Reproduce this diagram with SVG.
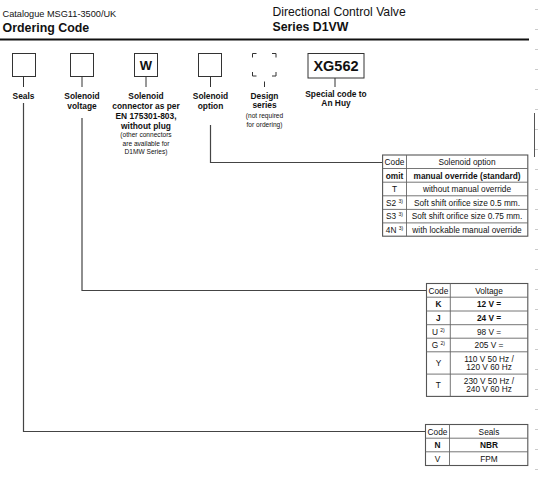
<svg xmlns="http://www.w3.org/2000/svg" width="538" height="480" viewBox="0 0 538 480">
<style>
text{font-family:"Liberation Sans",Arial,sans-serif;fill:#111}
.b{font-weight:bold}
.lbl{font-size:8.4px;font-weight:bold;text-anchor:middle}
.sm{font-size:6.6px;text-anchor:middle}
.t{font-size:8.3px;text-anchor:middle}
.sup{font-size:5px}
.box{fill:#fff;stroke:#333;stroke-width:1}
.stem{stroke:#333;stroke-width:1;fill:none}
.conn{stroke:#444;stroke-width:1.2;fill:none}
.tbl{fill:#fff;stroke:#555;stroke-width:1.1}
.grid{stroke:#666;stroke-width:0.9;fill:none}
.tick{stroke:#ccc;stroke-width:1}
</style>

<g id="header">
<text x="2.5" y="16.5" font-size="9.2">Catalogue MSG11-3500/UK</text>
<text x="2.5" y="31.5" font-size="12.4" class="b">Ordering Code</text>
<text x="272.5" y="16" font-size="12.2">Directional Control Valve</text>
<text x="272.5" y="31" font-size="12.3" class="b">Series D1VW</text>
<line x1="0" y1="39.5" x2="529" y2="39.5" stroke="#111" stroke-width="2"/>
</g>

<g id="edge-ticks">
<path class="tick" d="M535 9.5H538M535 29.5H538M535 49.5H538M535 69.5H538M535 89.5H538M535 109.5H538M535 129.5H538M535 149.5H538M535 169.5H538M535 189.5H538M535 209.5H538M535 229.5H538M535 249.5H538M535 269.5H538M535 289.5H538M535 309.5H538M535 329.5H538M535 349.5H538M535 369.5H538M535 389.5H538M535 409.5H538M535 429.5H538M535 449.5H538M535 469.5H538"/>
<line x1="534.5" y1="113" x2="534.5" y2="157" stroke="#555" stroke-width="1"/>
</g>

<g id="node-seals">
<rect class="box" x="12.5" y="53.5" width="23" height="23"/>
<line class="stem" x1="23.5" y1="76.5" x2="23.5" y2="87"/>
<text class="lbl" x="23.5" y="99">Seals</text>
</g>

<g id="node-voltage">
<rect class="box" x="70.5" y="53.5" width="23" height="23"/>
<line class="stem" x1="82" y1="76.5" x2="82" y2="87"/>
<text class="lbl" x="82" y="99">Solenoid</text>
<text class="lbl" x="82" y="109">voltage</text>
</g>

<g id="node-connector">
<rect class="box" x="134.5" y="53.5" width="23" height="23"/>
<text x="146" y="69.5" font-size="13" class="b" text-anchor="middle">W</text>
<line class="stem" x1="146" y1="76.5" x2="146" y2="87"/>
<text class="lbl" x="146" y="99">Solenoid</text>
<text class="lbl" x="146" y="109">connector as per</text>
<text class="lbl" x="146" y="119">EN 175301-803,</text>
<text class="lbl" x="146" y="128.5">without plug</text>
<text class="sm" x="146" y="137">(other connectors</text>
<text class="sm" x="146" y="145.5">are available for</text>
<text class="sm" x="146" y="154">D1MW Series)</text>
</g>

<g id="node-option">
<rect class="box" x="198.5" y="53.5" width="23" height="23"/>
<line class="stem" x1="210.5" y1="76.5" x2="210.5" y2="87"/>
<text class="lbl" x="210.5" y="99">Solenoid</text>
<text class="lbl" x="210.5" y="109">option</text>
</g>

<g id="node-design">
<path class="stem" d="M252.5 57.5V53.5H256.5M272 53.5H276V57.5M252.5 72V76H256.5M272 76H276V72"/>
<line class="stem" x1="264.5" y1="81.5" x2="264.5" y2="87"/>
<text class="lbl" x="264.5" y="98.5">Design</text>
<text class="lbl" x="264.5" y="108">series</text>
<text class="sm" x="264.5" y="118">(not required</text>
<text class="sm" x="264.5" y="127">for ordering)</text>
</g>

<g id="node-special">
<rect class="box" x="308" y="53.5" width="56" height="24.5"/>
<text x="336" y="70.5" font-size="14.5" class="b" text-anchor="middle">XG562</text>
<line class="stem" x1="335" y1="78" x2="335" y2="87"/>
<text class="lbl" x="336" y="96.5">Special code to</text>
<text class="lbl" x="336" y="105.5">An Huy</text>
</g>

<g id="connectors">
<polyline class="conn" points="210.5,125 210.5,162.5 382.6,162.5"/>
<polyline class="conn" points="82,118 82,290.5 426.5,290.5"/>
<polyline class="conn" points="23.5,103 23.5,431.5 425.5,431.5"/>
</g>

<g id="table-option">
<rect class="tbl" x="382.6" y="155" width="145.2" height="81.2"/>
<path class="grid" d="M406.5 155V236.2M382.6 168.5H527.8M382.6 182.2H527.8M382.6 195.8H527.8M382.6 209.4H527.8M382.6 222.9H527.8"/>
<text class="t" x="394.5" y="165">Code</text>
<text class="t" x="467" y="165">Solenoid option</text>
<text class="t b" x="394.5" y="178.5">omit</text>
<text class="t b" x="467" y="178.5">manual override (standard)</text>
<text class="t" x="394.5" y="192">T</text>
<text class="t" x="467" y="192">without manual override</text>
<text class="t" x="394.5" y="205.5">S2 <tspan class="sup" dy="-3">3)</tspan></text>
<text class="t" x="467" y="205.5">Soft shift orifice size 0.5 mm.</text>
<text class="t" x="394.5" y="219">S3 <tspan class="sup" dy="-3">3)</tspan></text>
<text class="t" x="467" y="219">Soft shift orifice size 0.75 mm.</text>
<text class="t" x="394.5" y="232.5">4N <tspan class="sup" dy="-3">3)</tspan></text>
<text class="t" x="467" y="232.5">with lockable manual override</text>
</g>

<g id="table-voltage">
<rect class="tbl" x="426.5" y="283.5" width="101.3" height="112.9"/>
<path class="grid" d="M450.3 283.5V396.4M426.5 297.2H527.8M426.5 311H527.8M426.5 324.7H527.8M426.5 338.2H527.8M426.5 351.8H527.8M426.5 374.1H527.8"/>
<text class="t" x="438.4" y="293.5">Code</text>
<text class="t" x="489" y="293.5">Voltage</text>
<text class="t b" x="438.4" y="307.3">K</text>
<text class="t b" x="489" y="307.3">12 V =</text>
<text class="t b" x="438.4" y="321">J</text>
<text class="t b" x="489" y="321">24 V =</text>
<text class="t" x="438.4" y="334.5">U <tspan class="sup" dy="-3">2)</tspan></text>
<text class="t" x="489" y="334.5">98 V =</text>
<text class="t" x="438.4" y="348">G <tspan class="sup" dy="-3">2)</tspan></text>
<text class="t" x="489" y="348">205 V =</text>
<text class="t" x="438.4" y="366">Y</text>
<text class="t" x="489" y="361.5">110 V 50 Hz /</text>
<text class="t" x="489" y="370">120 V 60 Hz</text>
<text class="t" x="438.4" y="388.3">T</text>
<text class="t" x="489" y="383.8">230 V 50 Hz /</text>
<text class="t" x="489" y="392.3">240 V 60 Hz</text>
</g>

<g id="table-seals">
<rect class="tbl" x="425.5" y="424.5" width="102.3" height="41"/>
<path class="grid" d="M449.5 424.5V465.5M425.5 438.2H527.8M425.5 451.8H527.8"/>
<text class="t" x="437.5" y="434.5">Code</text>
<text class="t" x="489" y="434.5">Seals</text>
<text class="t b" x="437.5" y="448">N</text>
<text class="t b" x="489" y="448">NBR</text>
<text class="t" x="437.5" y="461.5">V</text>
<text class="t" x="489" y="461.5">FPM</text>
</g>
</svg>
